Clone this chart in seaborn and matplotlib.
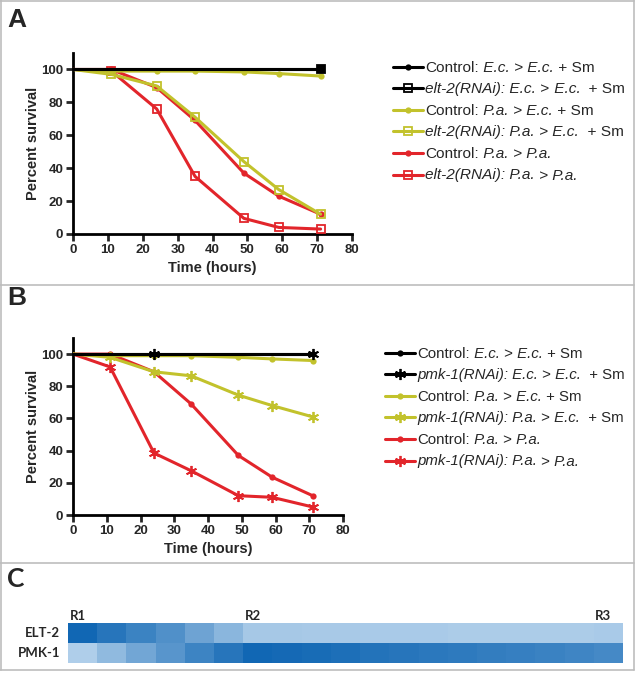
import numpy as np
import pandas as pd
import seaborn as sns
import matplotlib.pyplot as plt
from matplotlib.colors import LinearSegmentedColormap
from matplotlib.lines import Line2D
from matplotlib.offsetbox import TextArea, HPacker, AnnotationBbox

sns.set_style("white")
plt.rcParams['font.family'] = ['Liberation Sans', 'DejaVu Sans']

# data
hours = [0, 11, 24, 35, 49, 59, 71]

a_ctrl_ec = [100, 100, 100, 100, 100, 100, 100]
a_elt2_ec = [100, 100, 100, 100, 100, 100, 100]
a_ctrl_pa_ec = [100, 99, 99, 99, 98.5, 97.5, 96]
a_elt2_pa_ec = [100, 97, 90, 71, 44, 27, 12]
a_ctrl_pa_pa = [100, 100, 89, 69, 37, 23, 12]
a_elt2_pa_pa = [100, 99, 76, 35, 9.5, 4, 3]

b_ctrl_ec = [100, 100, 100, 100, 100, 100, 100]
b_pmk1_ec = [100, 100, 100, 100, 100, 100, 100]
b_ctrl_pa_ec = [100, 99, 99, 99, 98, 97, 96]
b_pmk1_pa_ec = [100, 98, 89, 86.5, 74.5, 68, 61]
b_ctrl_pa_pa = [100, 100, 89, 69, 37, 23.5, 12]
b_pmk1_pa_pa = [100, 92, 38.5, 27.5, 12, 11, 5]

# legend labels as (text, italic) pieces
labels_a = [[("Control:", 0), (" E.c.", 1), (" >", 0), (" E.c.", 1), (" + Sm", 0)],
            [("elt-2(RNAi): E.c.", 1), (" >", 0), (" E.c.", 1), ("  + Sm", 0)],
            [("Control:", 0), (" P.a.", 1), (" >", 0), (" E.c.", 1), (" + Sm", 0)],
            [("elt-2(RNAi): P.a.", 1), (" >", 0), (" E.c.", 1), ("  + Sm", 0)],
            [("Control:", 0), (" P.a.", 1), (" >", 0), (" P.a.", 1)],
            [("elt-2(RNAi): P.a.", 1), (" >", 0), (" P.a.", 1)]]
labels_b = [[("Control:", 0), (" E.c.", 1), (" >", 0), (" E.c.", 1), (" + Sm", 0)],
            [("pmk-1(RNAi): E.c.", 1), (" >", 0), (" E.c.", 1), ("  + Sm", 0)],
            [("Control:", 0), (" P.a.", 1), (" >", 0), (" E.c.", 1), (" + Sm", 0)],
            [("pmk-1(RNAi): P.a.", 1), (" >", 0), (" E.c.", 1), ("  + Sm", 0)],
            [("Control:", 0), (" P.a.", 1), (" >", 0), (" P.a.", 1)],
            [("pmk-1(RNAi): P.a.", 1), (" >", 0), (" P.a.", 1)]]

heat_rows = ["ELT-2", "PMK-1"]
elt2_expr = [1.0, 0.88, 0.77, 0.66, 0.5, 0.35, 0.2, 0.2, 0.19, 0.19, 0.18, 0.18,
             0.18, 0.17, 0.17, 0.17, 0.17, 0.17, 0.18]
pmk1_expr = [0.15, 0.32, 0.48, 0.62, 0.76, 0.88, 1.0, 0.98, 0.96, 0.93, 0.9, 0.88,
             0.86, 0.84, 0.82, 0.8, 0.78, 0.75, 0.72]
region_labels = {0: "R1", 6: "R2", 18: "R3"}

BLACK = "#000000"
YEL = "#c2c22c"
RED = "#e2252b"
STAR = (6, 2, 0)

W, H = 638, 673
fig = plt.figure(figsize=(W / 100, H / 100), dpi=100)


def fx(px):
    return px / W


def fy(py):
    return 1 - py / H


def survival_panel(rect, series, labels, mk, leg_x, leg_y0, black_marks, fs):
    ax = fig.add_axes(rect)
    cols = [BLACK, BLACK, YEL, YEL, RED, RED]
    for i in [5, 4, 3, 2, 1, 0]:
        m = "o" if i % 2 == 0 else mk
        filled = (i % 2 == 0) or mk == STAR
        ms = 4.5 if m == "o" else (5.5 if mk == "s" else 8)
        mew = 0 if m == "o" else 1.3
        every = [1, 2, 3, 4, 5, 6]
        if i == 0:
            every = [6]
        if i == 1:
            every = black_marks
        face = cols[i] if (filled or i == 1) else "none"
        sns.lineplot(x=hours, y=series[i], ax=ax, color=cols[i], lw=2.2,
                     marker=m, markersize=ms, markeredgewidth=mew, markevery=every,
                     markerfacecolor=face, markeredgecolor=cols[i],
                     zorder=5 if i < 2 else 3)
        # legend row drawn by hand
        y = leg_y0 + i * 21.6
        fig.add_artist(Line2D([fx(leg_x), fx(leg_x + 15), fx(leg_x + 30)], [fy(y)] * 3,
                              color=cols[i], lw=2.2, marker=m, markersize=ms,
                              markeredgewidth=mew, markevery=[1],
                              markerfacecolor=cols[i] if filled else "none",
                              markeredgecolor=cols[i]))
        boxes = [TextArea(t, textprops=dict(fontsize=fs,
                                            fontstyle="italic" if it else "normal"))
                 for t, it in labels[i]]
        pack = HPacker(children=boxes, pad=0, sep=0, align="baseline")
        fig.add_artist(AnnotationBbox(pack, (fx(leg_x + 32.5), fy(y + 1)),
                                      xycoords="figure fraction",
                                      box_alignment=(0, 0.5), frameon=False, pad=0))
    ax.set_xlim(0, 80)
    ax.set_ylim(0, 110)
    ax.set_xticks(range(0, 81, 10))
    ax.set_yticks(range(0, 101, 20))
    for s in ["top", "right"]:
        ax.spines[s].set_visible(False)
    for s in ["left", "bottom"]:
        ax.spines[s].set_linewidth(2)
        ax.spines[s].set_color("black")
    ax.tick_params(direction="out", length=5, width=2, labelsize=9.5, pad=2,
                   left=True, bottom=True)
    for t in ax.get_xticklabels() + ax.get_yticklabels():
        t.set_fontweight("bold")
    ax.set_xlabel("Time (hours)", fontsize=10.5, fontweight="bold", labelpad=4)
    ax.set_ylabel("Percent survival", fontsize=10.5, fontweight="bold", labelpad=1)
    return ax


survival_panel([fx(73), fy(234), 279 / W, 181 / H],
               [a_ctrl_ec, a_elt2_ec, a_ctrl_pa_ec, a_elt2_pa_ec, a_ctrl_pa_pa, a_elt2_pa_pa],
               labels_a, "s", 393, 66.5, [6], 11.1)
survival_panel([fx(73), fy(515), 270 / W, 177 / H],
               [b_ctrl_ec, b_pmk1_ec, b_ctrl_pa_ec, b_pmk1_pa_ec, b_ctrl_pa_pa, b_pmk1_pa_pa],
               labels_b, STAR, 385, 352.5, [2, 6], 10.8)

# panel C heatmap
hax = fig.add_axes([fx(68), fy(663), 555 / W, 40 / H])
heat = pd.DataFrame([elt2_expr, pmk1_expr], index=heat_rows)
cmap = LinearSegmentedColormap.from_list("blu", ["#cbe0f3", "#1167b4"])
sns.heatmap(heat, ax=hax, cmap=cmap, vmin=0, vmax=1, cbar=False, linewidths=0)
hax.set_xticks([])
hax.set_yticks([0.5, 1.5])
hax.tick_params(left=False, pad=2)
hax.set_yticklabels(heat_rows, rotation=0)
for t in hax.get_yticklabels():
    t.set_fontsize(9.5)
    t.set_fontweight("bold")
    t.set_family(["Lato", "DejaVu Sans"])
for col, lab in region_labels.items():
    hax.text(col + 0.05, -0.05, lab, fontsize=9.5, fontweight="bold",
             family=["Lato", "DejaVu Sans"], va="bottom", ha="left")

# panel letters
for lab, y in [("A", 20), ("B", 298), ("C", 579)]:
    fig.text(fx(7), fy(y), lab, fontsize=19, fontweight="bold", va="center",
             family=["Liberation Sans"] if lab != "C" else ["Lato"])

# grey frame lines
gc = "#bdbdbd"
for y in [285, 563, 670]:
    fig.add_artist(Line2D([0, fx(634)], [fy(y)] * 2, color=gc, lw=1.2))
fig.add_artist(Line2D([fx(634)] * 2, [fy(670), 1], color=gc, lw=1.2))
fig.add_artist(Line2D([0, fx(634)], [0.999, 0.999], color=gc, lw=1.2))
fig.add_artist(Line2D([0.001, 0.001], [fy(670), 1], color=gc, lw=1.2))

fig.savefig("out.png", dpi=100)
